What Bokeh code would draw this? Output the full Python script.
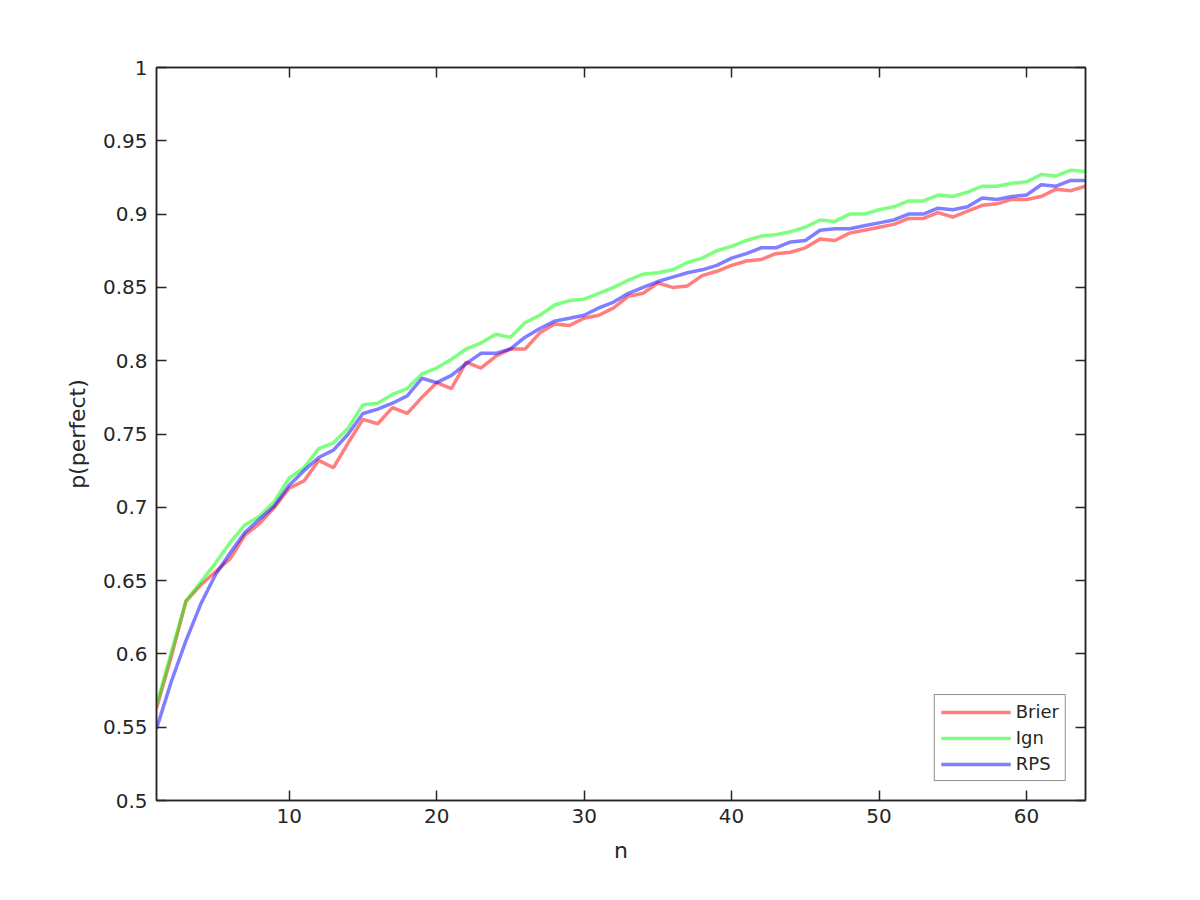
from bokeh.plotting import figure
from bokeh.models import LinearAxis, FixedTicker, Legend, LegendItem, Range1d
from bokeh.embed import file_html
from bokeh.resources import INLINE

n = list(range(1, 65))

brier = [0.563, 0.598, 0.636, 0.647, 0.656, 0.665, 0.681, 0.689, 0.700, 0.713,
         0.718, 0.732, 0.727, 0.744, 0.760, 0.757, 0.768, 0.764, 0.775, 0.785,
         0.781, 0.799, 0.795, 0.803, 0.808, 0.808, 0.819, 0.825, 0.824, 0.829,
         0.831, 0.836, 0.844, 0.846, 0.853, 0.850, 0.851, 0.858, 0.861, 0.865,
         0.868, 0.869, 0.873, 0.874, 0.877, 0.883, 0.882, 0.887, 0.889, 0.891,
         0.893, 0.897, 0.897, 0.901, 0.898, 0.902, 0.906, 0.907, 0.910, 0.910,
         0.912, 0.917, 0.916, 0.919]

ign = [0.565, 0.601, 0.636, 0.649, 0.662, 0.676, 0.688, 0.694, 0.704, 0.720,
       0.727, 0.740, 0.744, 0.754, 0.770, 0.771, 0.777, 0.781, 0.791, 0.795,
       0.801, 0.808, 0.812, 0.818, 0.816, 0.826, 0.831, 0.838, 0.841, 0.842,
       0.846, 0.850, 0.855, 0.859, 0.860, 0.862, 0.867, 0.870, 0.875, 0.878,
       0.882, 0.885, 0.886, 0.888, 0.891, 0.896, 0.895, 0.900, 0.900, 0.903,
       0.905, 0.909, 0.909, 0.913, 0.912, 0.915, 0.919, 0.919, 0.921, 0.922,
       0.927, 0.926, 0.930, 0.929]

rps = [0.549, 0.581, 0.609, 0.634, 0.654, 0.669, 0.683, 0.692, 0.701, 0.715,
       0.725, 0.734, 0.739, 0.750, 0.764, 0.767, 0.771, 0.776, 0.788, 0.785,
       0.790, 0.798, 0.805, 0.805, 0.808, 0.816, 0.822, 0.827, 0.829, 0.831,
       0.836, 0.840, 0.846, 0.850, 0.854, 0.857, 0.860, 0.862, 0.865, 0.870,
       0.873, 0.877, 0.877, 0.881, 0.882, 0.889, 0.890, 0.890, 0.892, 0.894,
       0.896, 0.900, 0.900, 0.904, 0.903, 0.905, 0.911, 0.910, 0.912, 0.913,
       0.920, 0.919, 0.923, 0.923]

series_names = ["Brier", "Ign", "RPS"]
series_colors = ["#ff0000", "#00ff00", "#0000ff"]

x_ticks = [10, 20, 30, 40, 50, 60]
y_ticks = [0.5, 0.55, 0.6, 0.65, 0.7, 0.75, 0.8, 0.85, 0.9, 0.95, 1.0]
y_tick_labels = ["0.5", "0.55", "0.6", "0.65", "0.7", "0.75", "0.8", "0.85", "0.9", "0.95", "1"]

FONT = "DejaVu Sans"
TXT = "#262626"

p = figure(frame_width=929, frame_height=733,
           min_border_left=156, min_border_top=67, min_border_right=107, min_border_bottom=92,
           x_range=Range1d(1, 64), y_range=Range1d(0.5, 1.0),
           output_backend="svg", toolbar_location=None,
           background_fill_color="white", border_fill_color="white")

p.xgrid.visible = False
p.ygrid.visible = False
p.outline_line_color = TXT
p.outline_line_width = 1.5

renderers = []
for name, col, data in zip(series_names, series_colors, [brier, ign, rps]):
    r = p.line(n, data, line_color=col, line_alpha=0.5, line_width=3.5)
    renderers.append(r)

def style_axis(ax, show_labels):
    ax.major_tick_in = 10
    ax.major_tick_out = 0
    ax.minor_tick_in = 0
    ax.minor_tick_out = 0
    ax.axis_line_color = TXT
    ax.axis_line_width = 1.5
    ax.major_tick_line_color = TXT
    ax.major_tick_line_width = 1.5
    ax.major_label_text_font = FONT
    ax.major_label_text_font_size = "20px"
    ax.major_label_text_color = TXT if show_labels else None
    ax.axis_label_text_font = FONT
    ax.axis_label_text_font_size = "22px"
    ax.axis_label_text_font_style = "normal"
    ax.axis_label_text_color = TXT

p.xaxis.ticker = FixedTicker(ticks=x_ticks)
p.yaxis.ticker = FixedTicker(ticks=y_ticks)
p.yaxis.major_label_overrides = {t: l for t, l in zip(y_ticks, y_tick_labels)}
style_axis(p.xaxis[0], True)
style_axis(p.yaxis[0], True)
p.xaxis.axis_label = "n"
p.yaxis.axis_label = "p(perfect)"
p.xaxis.major_label_standoff = 8
p.yaxis.major_label_standoff = 9
p.xaxis.axis_label_standoff = 12
p.yaxis.axis_label_standoff = 10

top = LinearAxis(ticker=FixedTicker(ticks=x_ticks))
style_axis(top, False)
top.major_label_text_font_size = "0px"
right = LinearAxis(ticker=FixedTicker(ticks=y_ticks))
style_axis(right, False)
right.major_label_text_font_size = "0px"
p.add_layout(top, "above")
p.add_layout(right, "right")

legend = Legend(items=[LegendItem(label=nm, renderers=[r]) for nm, r in zip(series_names, renderers)],
                location="bottom_right")
legend.margin = 19
legend.padding = 6
legend.spacing = 5
legend.label_height = 20
legend.glyph_height = 20
legend.glyph_width = 70
legend.label_standoff = 5
legend.label_text_font = FONT
legend.label_text_font_size = "18px"
legend.label_text_color = TXT
legend.border_line_color = TXT
legend.border_line_width = 1.5
legend.background_fill_color = "white"
legend.background_fill_alpha = 1.0
p.add_layout(legend, "center")

open("out.html", "w").write(file_html(p, INLINE))
